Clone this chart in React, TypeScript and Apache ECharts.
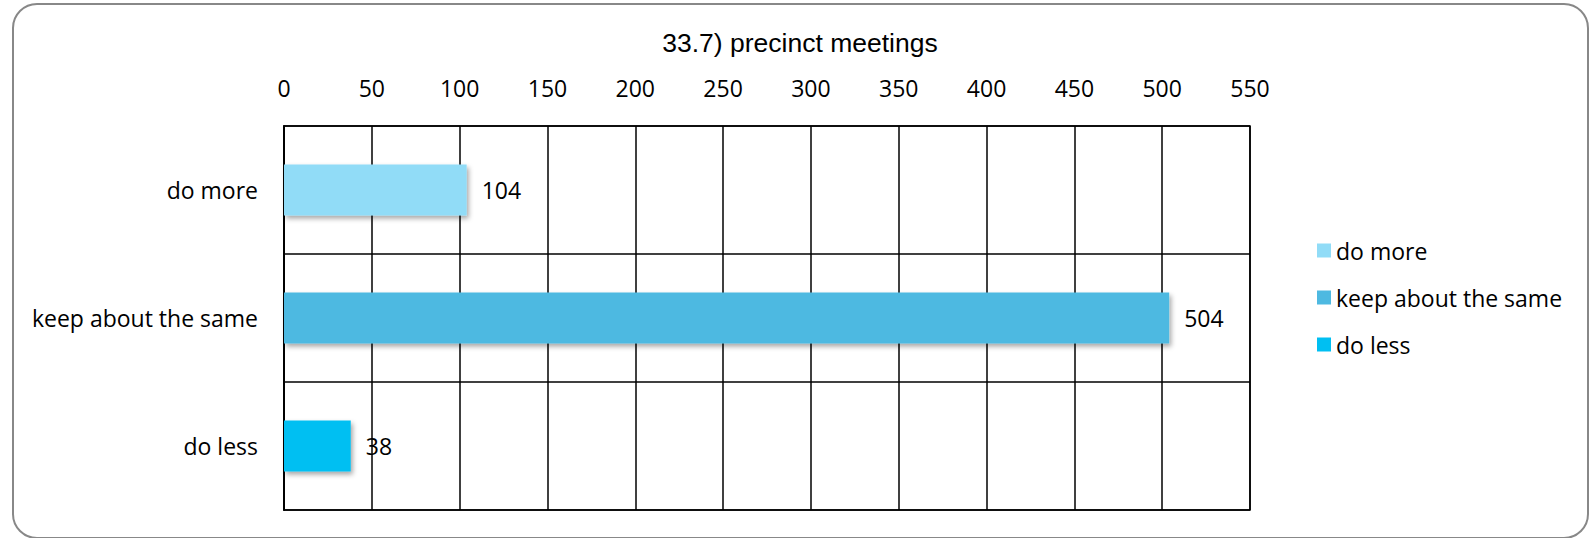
import React, { useEffect, useRef } from "react";
import * as echarts from "echarts";

const title = "33.7) precinct meetings";
const categories = ["do more", "keep about the same", "do less"];
const values = [104, 504, 38];
const colors = ["#91DCF7", "#4EB9E1", "#00BFF2"];
const axisMin = 0;
const axisMax = 550;
const axisInterval = 50;

const FONT = "Open Sans";

export default function App() {
  const ref = useRef<HTMLDivElement>(null);
  useEffect(() => {
    if (!ref.current) return;
    const chart = echarts.init(ref.current, undefined, { renderer: "svg" });
    const series = categories.map((name, i) => ({
      name,
      type: "bar",
      stack: "total",
      barWidth: "40%",
      data: categories.map((_, j) => (j === i ? values[i] : "-")),
      itemStyle: {
        color: colors[i],
        shadowBlur: 5,
        shadowOffsetX: 2,
        shadowOffsetY: 3,
        shadowColor: "rgba(0,0,0,0.35)",
      },
      label: {
        show: true,
        position: "right",
        distance: 15,
        color: "#000",
        fontFamily: FONT,
        fontSize: 23,
      },
    }));
    chart.setOption({
      animation: false,
      backgroundColor: "#fff",
      title: {
        text: title,
        left: 795,
        textAlign: "center",
        top: 24,
        textStyle: {
          fontFamily: "Liberation Sans",
          fontSize: 26.5,
          fontWeight: "normal",
          color: "#000",
        },
      },
      legend: {
        orient: "vertical",
        left: 1312,
        top: 234,
        itemWidth: 14,
        itemHeight: 14,
        itemGap: 24,
        icon: "rect",
        data: categories,
        textStyle: { fontFamily: FONT, fontSize: 23, color: "#000" },
      },
      graphic: [
        {
          type: "rect",
          shape: { x: 13, y: 4, width: 1575, height: 534, r: 24 },
          style: { fill: "none", stroke: "#888", lineWidth: 2 },
          silent: true,
          z: -1,
        },
      ],
      grid: {
        left: 284,
        right: 339,
        top: 126,
        bottom: 28,
        show: true,
        borderColor: "#000",
        borderWidth: 1.5,
        backgroundColor: "transparent",
      },
      xAxis: {
        type: "value",
        position: "top",
        min: axisMin,
        max: axisMax,
        interval: axisInterval,
        axisLine: { show: false },
        axisTick: { show: false },
        axisLabel: {
          margin: 27,
          color: "#000",
          fontFamily: FONT,
          fontSize: 23,
        },
        splitLine: { show: true, lineStyle: { color: "#000", width: 1.5 } },
      },
      yAxis: {
        type: "category",
        inverse: true,
        data: categories,
        axisLine: { show: true, lineStyle: { color: "#000", width: 2 } },
        axisTick: { show: false },
        axisLabel: {
          margin: 26,
          color: "#000",
          fontFamily: FONT,
          fontSize: 23,
        },
        splitLine: { show: true, lineStyle: { color: "#000", width: 1.5 } },
      },
      series,
    });
    return () => chart.dispose();
  }, []);
  return (
    <div
      ref={ref}
      style={{ position: "fixed", left: 0, top: 0, width: 1589, height: 538 }}
    />
  );
}
